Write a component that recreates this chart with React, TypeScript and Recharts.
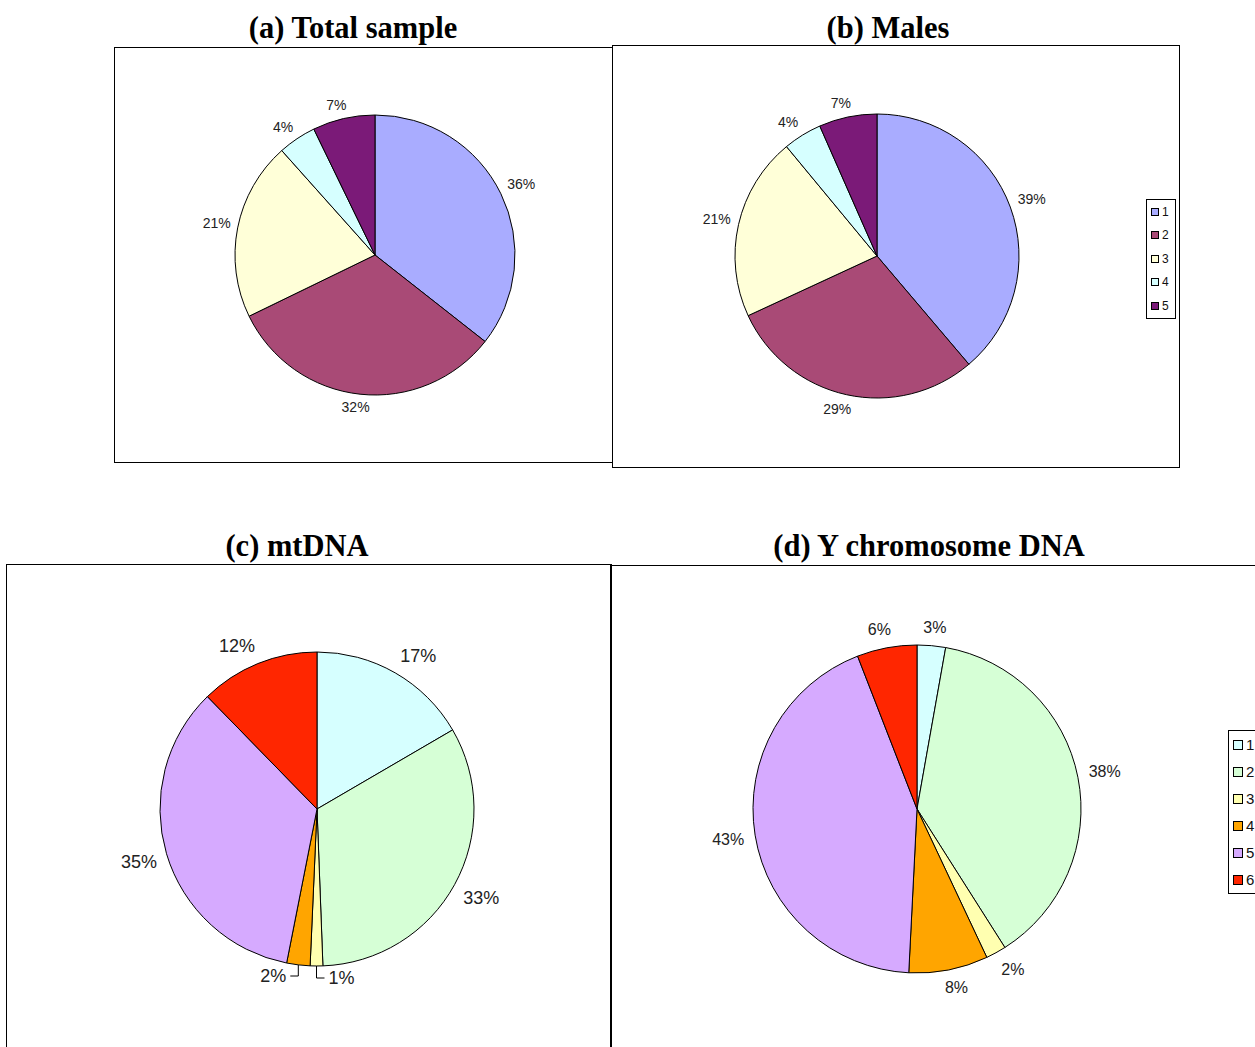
import React from 'react';
import { PieChart, Pie, Cell, Legend } from 'recharts';

// ---- data ----
const groupNamesA = ['1', '2', '3', '4', '5'];
const totalSampleValues = [35.6, 32.2, 20.6, 4.4, 7.2];
const malesValues = [38.8, 29.3, 20.9, 4.4, 6.6];
const colorsAB = ['#A9ACFF', '#A94A76', '#FFFFD8', '#D6FFFF', '#7B1A78'];

const groupNamesC = ['1', '2', '3', '4', '5', '6'];
const mtDnaValues = [16.6, 32.8, 1.3, 2.4, 34.6, 12.3];
const yDnaValues = [2.8, 38.2, 2.0, 7.8, 43.3, 5.9];
const colorsCD = ['#D6FFFF', '#D6FFD6', '#FFFFB0', '#FFA500', '#D6AAFF', '#FF2600'];

const titles = ['(a) Total sample', '(b) Males', '(c) mtDNA', '(d) Y chromosome DNA'];

const toRows = (names: string[], values: number[]) =>
  names.map((n, i) => ({ name: n, value: values[i] }));

const RAD = Math.PI / 180;
const SANS = '"Liberation Sans", Arial, Helvetica, sans-serif';
const SERIF = '"Liberation Serif", "Times New Roman", serif';
const NOMARGIN = { top: 0, right: 0, bottom: 0, left: 0 };

// place a label box just outside the arc (box edge/corner facing the pie)
const labelCenter = (cx: number, cy: number, midAngle: number, R: number, txt: string, fs: number) => {
  const c = Math.cos(midAngle * RAD);
  const s = Math.sin(midAngle * RAD);
  const w = ((txt.length - 1) * 0.556 + 0.889) * fs;
  const a = w / 2;
  const b = fs * 0.45;
  const ox = a * Math.sign(c) * Math.min(1, 2.5 * Math.abs(c));
  const oy = b * Math.sign(s) * Math.min(1, 2.5 * Math.abs(s));
  return { x: cx + R * c + ox, y: cy - R * s - oy };
};

const makeLabel = (offset: number, fontSize: number) => (props: any) => {
  const { cx, cy, midAngle, outerRadius, percent } = props;
  const txt = `${Math.round(percent * 100)}%`;
  const p = labelCenter(cx, cy, midAngle, outerRadius + offset, txt, fontSize);
  return (
    <text x={p.x} y={p.y} textAnchor="middle" dominantBaseline="central" fontSize={fontSize} fontFamily={SANS} fill="#222">
      {txt}
    </text>
  );
};

const mtLabel = (props: any) => {
  const { cx, cy, midAngle, outerRadius, percent, index } = props;
  const txt = `${Math.round(percent * 100)}%`;
  if (index === 2 || index === 3) {
    const sx = cx + outerRadius * Math.cos(midAngle * RAD);
    const sy = cy - outerRadius * Math.sin(midAngle * RAD);
    const ey = cy + outerRadius + (index === 2 ? 12 : 10);
    const dir = index === 2 ? 1 : -1;
    const hx = sx + dir * 8;
    return (
      <g>
        <polyline points={`${sx},${sy} ${sx},${ey} ${hx},${ey}`} fill="none" stroke="#000" strokeWidth={1} />
        <text x={hx + dir * 4} y={ey} textAnchor={dir > 0 ? 'start' : 'end'} dominantBaseline="central" fontSize={18} fontFamily={SANS} fill="#222">
          {txt}
        </text>
      </g>
    );
  }
  const p = labelCenter(cx, cy, midAngle, outerRadius + 10, txt, 18);
  return (
    <text x={p.x} y={p.y} textAnchor="middle" dominantBaseline="central" fontSize={18} fontFamily={SANS} fill="#222">
      {txt}
    </text>
  );
};

const makeLegend = (colors: string[], opts: { sq: number; font: number; gap: number; pad: number; width: number }) =>
  (props: any) => {
    const payload = props.payload || [];
    return (
      <div style={{ border: '1px solid #000', background: '#fff', width: opts.width, boxSizing: 'border-box', padding: `${opts.pad}px 0 ${opts.pad}px 4px`, fontFamily: SANS, fontSize: opts.font, color: '#111' }}>
        {payload.map((p: any, i: number) => (
          <div key={i} style={{ height: opts.gap, display: 'flex', alignItems: 'center' }}>
            <span style={{ display: 'inline-block', width: opts.sq, height: opts.sq, background: colors[i] || p.color, border: '1px solid #000', marginRight: 3, boxSizing: 'border-box' }} />
            <span>{p.value}</span>
          </div>
        ))}
      </div>
    );
  };

const boxStyle = (left: number, top: number, width: number, height: number): React.CSSProperties => ({
  position: 'absolute', left, top, width, height, border: '1.5px solid #000', boxSizing: 'border-box',
});

const titleStyle = (cx: number, top: number): React.CSSProperties => ({
  position: 'absolute', left: cx - 250, top, width: 500, textAlign: 'center', fontFamily: SERIF,
  fontWeight: 'bold', fontSize: 30.5, lineHeight: '32px', color: '#000',
});

export default function App() {
  return (
    <div style={{ position: 'absolute', left: 0, top: 0, width: 1255, height: 1047, overflow: 'hidden', background: '#fff' }}>
      <div style={titleStyle(353, 12)}>{titles[0]}</div>
      <div style={titleStyle(888, 12)}>{titles[1]}</div>
      <div style={titleStyle(297, 530)}>{titles[2]}</div>
      <div style={titleStyle(929, 530)}>{titles[3]}</div>

      <div style={boxStyle(114, 47, 499, 416)} />
      <div style={boxStyle(612, 45, 568, 423)} />
      <div style={boxStyle(6, 564, 606, 600)} />
      <div style={boxStyle(610, 565, 700, 600)} />

      <div style={{ position: 'absolute', left: 114, top: 47 }}>
        <PieChart width={499} height={416} margin={NOMARGIN}>
          <Pie data={toRows(groupNamesA, totalSampleValues)} dataKey="value" nameKey="name" cx={261} cy={208} outerRadius={140}
            startAngle={90} endAngle={-270} stroke="#000" strokeWidth={1} isAnimationActive={false}
            label={makeLabel(7, 14)} labelLine={false}>
            {totalSampleValues.map((_, i) => <Cell key={i} fill={colorsAB[i]} />)}
          </Pie>
        </PieChart>
      </div>

      <div style={{ position: 'absolute', left: 612, top: 45 }}>
        <PieChart width={568} height={423} margin={NOMARGIN}>
          <Pie data={toRows(groupNamesA, malesValues)} dataKey="value" nameKey="name" cx={265} cy={211} outerRadius={142}
            startAngle={90} endAngle={-270} stroke="#000" strokeWidth={1} isAnimationActive={false}
            label={makeLabel(8, 14)} labelLine={false}>
            {malesValues.map((_, i) => <Cell key={i} fill={colorsAB[i]} />)}
          </Pie>
          <Legend layout="vertical" content={makeLegend(colorsAB, { sq: 8, font: 12, gap: 23.5, pad: 0, width: 30 })}
            wrapperStyle={{ position: 'absolute', left: 534, top: 154, width: 30, height: 'auto', bottom: 'auto', right: 'auto' }} />
        </PieChart>
      </div>

      <div style={{ position: 'absolute', left: 6, top: 564 }}>
        <PieChart width={606} height={500} margin={NOMARGIN}>
          <Pie data={toRows(groupNamesC, mtDnaValues)} dataKey="value" nameKey="name" cx={311} cy={245} outerRadius={157}
            startAngle={90} endAngle={-270} stroke="#000" strokeWidth={1} isAnimationActive={false}
            label={mtLabel} labelLine={false}>
            {mtDnaValues.map((_, i) => <Cell key={i} fill={colorsCD[i]} />)}
          </Pie>
        </PieChart>
      </div>

      <div style={{ position: 'absolute', left: 610, top: 565 }}>
        <PieChart width={700} height={500} margin={NOMARGIN}>
          <Pie data={toRows(groupNamesC, yDnaValues)} dataKey="value" nameKey="name" cx={307} cy={244} outerRadius={164}
            startAngle={90} endAngle={-270} stroke="#000" strokeWidth={1} isAnimationActive={false}
            label={makeLabel(11, 16)} labelLine={false}>
            {yDnaValues.map((_, i) => <Cell key={i} fill={colorsCD[i]} />)}
          </Pie>
          <Legend layout="vertical" content={makeLegend(colorsCD, { sq: 10, font: 15, gap: 27, pad: 0, width: 50 })}
            wrapperStyle={{ position: 'absolute', left: 618, top: 165, width: 50, height: 'auto', bottom: 'auto', right: 'auto' }} />
        </PieChart>
      </div>
    </div>
  );
}
